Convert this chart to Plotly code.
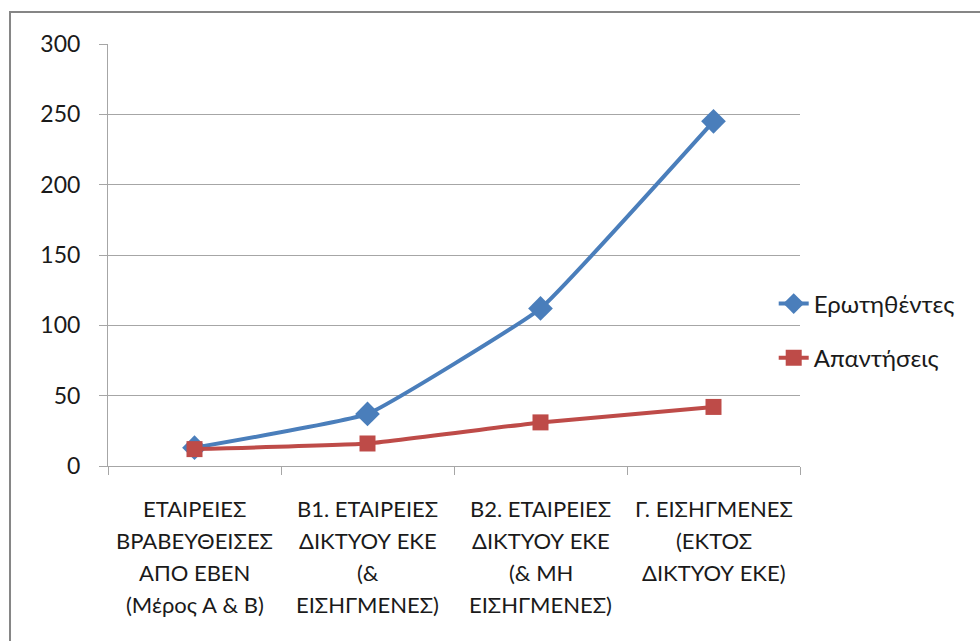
import plotly.graph_objects as go

# Category label lines (one list per category)
category_lines = [
    ["ΕΤΑΙΡΕΙΕΣ", "ΒΡΑΒΕΥΘΕΙΣΕΣ", "ΑΠΌ ΕΒΕΝ", "(Μέρος Α & Β)"],
    ["Β1. ΕΤΑΙΡΕΙΕΣ", "ΔΙΚΤΥΟΥ ΕΚΕ", "(&", "ΕΙΣΗΓΜΕΝΕΣ)"],
    ["Β2. ΕΤΑΙΡΕΙΕΣ", "ΔΙΚΤΥΟΥ ΕΚΕ", "(& ΜΗ", "ΕΙΣΗΓΜΕΝΕΣ)"],
    ["Γ. ΕΙΣΗΓΜΕΝΕΣ", "(ΕΚΤΟΣ", "ΔΙΚΤΥΟΥ ΕΚΕ)"],
]
categories = [0, 1, 2, 3]

asked = [13, 37, 112, 245]      # Ερωτηθέντες
answers = [12, 16, 31, 42]      # Απαντήσεις

y_ticks = [0, 50, 100, 150, 200, 250, 300]

FONT = "Lato"
BLUE = "#4A7EBB"
RED = "#BE4B48"
GRID = "#A6A6A6"
TEXT = "#1a1a1a"

fig = go.Figure()
fig.add_trace(go.Scatter(
    x=categories, y=asked, name="Ερωτηθέντες", mode="lines+markers",
    legendgroup="a",
    line=dict(color=BLUE, width=4, shape="spline", smoothing=0.3),
    marker=dict(symbol="diamond", size=19, color=BLUE),
))
fig.add_trace(go.Scatter(
    x=categories, y=answers, name="Απαντήσεις", mode="lines+markers",
    legendgroup="b",
    line=dict(color=RED, width=4, shape="spline", smoothing=0.3),
    marker=dict(symbol="square", size=16, color=RED),
))

# Multi-line category labels under the x axis
annotations = []
for cat, lines in zip(categories, category_lines):
    for i, line in enumerate(lines):
        annotations.append(dict(
            x=cat, y=0, xref="x", yref="y", text=line, showarrow=False,
            yshift=-42 - 32 * i, font=dict(family=FONT, size=22, color=TEXT),
            xanchor="center", yanchor="middle",
        ))

fig.update_layout(
    width=980, height=641,
    margin=dict(l=108, r=180, t=44, b=175, autoexpand=False),
    paper_bgcolor="white", plot_bgcolor="white",
    font=dict(family=FONT, size=22, color=TEXT),
    showlegend=True,
    legend=dict(
        x=0.962, y=0.32, xanchor="left", yanchor="middle",
        font=dict(family=FONT, size=24, color=TEXT),
        itemwidth=30, tracegroupgap=20, bgcolor="rgba(0,0,0,0)",
    ),
    annotations=annotations,
    shapes=[dict(
        type="rect", xref="paper", yref="paper",
        x0=-0.1416, x1=1.27, y0=-0.45, y1=1.0758,
        line=dict(color="#868686", width=2), layer="below",
    )],
)

fig.update_xaxes(
    range=[-0.5, 3.5], tickvals=[-0.5, 0.5, 1.5, 2.5, 3.5], ticktext=[""] * 5,
    ticks="outside", ticklen=8, tickcolor=GRID, tickwidth=1,
    showgrid=False, showline=True, linecolor=GRID, linewidth=1,
    zeroline=False, fixedrange=True,
)
fig.update_yaxes(
    range=[0, 300], tickvals=y_ticks,
    ticks="outside", ticklen=8, tickcolor=GRID, tickwidth=1,
    showgrid=True, gridcolor=GRID, gridwidth=1,
    showline=True, linecolor=GRID, linewidth=1, zeroline=False,
    tickfont=dict(family=FONT, size=23, color=TEXT),
    ticklabelstandoff=14,
)

fig.write_html("out.html")
